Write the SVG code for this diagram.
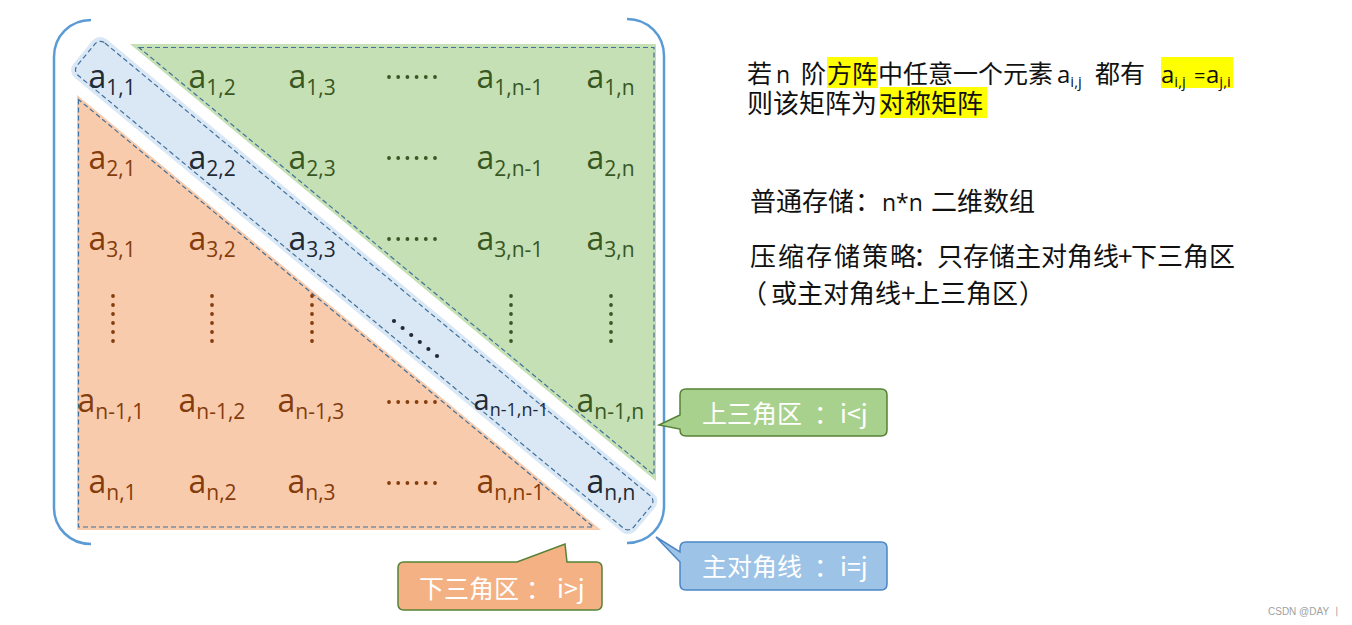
<svg xmlns="http://www.w3.org/2000/svg" width="1352" height="625" viewBox="0 0 1352 625">
<style>
.m{font-family:"Open Sans","Liberation Sans",sans-serif;font-size:32px}
.sm{font-size:29px}
.g{fill:#385723}.o{fill:#843c0c}.b{fill:#222a35}
.dash{fill:none;stroke:#41719c;stroke-width:1.2;stroke-dasharray:5 3}
.cjk{font-family:"Noto Sans CJK SC","Noto Sans",sans-serif;fill:#111}
.lat{font-family:"Open Sans","Liberation Sans",sans-serif;fill:#111}
.hl{fill:#ffff00}
.ct{font-family:"Noto Sans CJK SC","Noto Sans",sans-serif;font-size:25px;fill:#fff}
.br{fill:none;stroke:#5b9bd5;stroke-width:2.5}
</style>
<defs>
<g id="hdots"><circle cx="0" cy="0" r="1.9"/><circle cx="9.2" cy="0" r="1.9"/><circle cx="18.4" cy="0" r="1.9"/><circle cx="27.6" cy="0" r="1.9"/><circle cx="36.8" cy="0" r="1.9"/><circle cx="46" cy="0" r="1.9"/></g>
<g id="vdots"><circle cx="0" cy="0" r="1.9"/><circle cx="0" cy="9" r="1.9"/><circle cx="0" cy="18" r="1.9"/><circle cx="0" cy="27" r="1.9"/><circle cx="0" cy="36" r="1.9"/><circle cx="0" cy="45" r="1.9"/></g>
</defs>
<rect width="1352" height="625" fill="#fff"/>

<g id="region-upper">
<polygon points="130,44 656,44 656,481" fill="#c5e0b4"/>
<polygon class="dash" points="139,47.5 654,47.5 654,475"/>
</g>
<g id="region-lower">
<polygon points="77,95 77,530 601,530" fill="#f8cbad"/>
<polygon class="dash" points="78.5,99.5 78.5,527 593.5,527"/>
</g>
<g id="band" transform="translate(364.2,285.6) rotate(39.7)">
<rect x="-365.5" y="-25" width="731" height="50" rx="10" fill="#dae8f6"/>
<rect class="dash" x="-361.5" y="-21" width="723" height="42" rx="7"/>
</g>

<g id="bracket">
<path class="br" d="M91,20 C70,20 54,36 54,57 L54,508 C54,528 70,544 91,544"/>
<path class="br" d="M627,19 C648,19 664,35 664,56 L664,506 C664,527 648,543 627,543"/>
</g>

<g id="cells" class="m">
<text class="b" x="88.5" y="88">a<tspan font-size="21" dy="7">1,1</tspan></text>
<text class="g" x="188.5" y="88">a<tspan font-size="21" dy="7">1,2</tspan></text>
<text class="g" x="288.5" y="88">a<tspan font-size="21" dy="7">1,3</tspan></text>
<text class="g" x="476.5" y="88">a<tspan font-size="21" dy="7">1,n-1</tspan></text>
<text class="g" x="586.5" y="88">a<tspan font-size="21" dy="7">1,n</tspan></text>

<text class="o" x="88.5" y="169">a<tspan font-size="21" dy="7">2,1</tspan></text>
<text class="b" x="188.5" y="169">a<tspan font-size="21" dy="7">2,2</tspan></text>
<text class="g" x="288.5" y="169">a<tspan font-size="21" dy="7">2,3</tspan></text>
<text class="g" x="476.5" y="169">a<tspan font-size="21" dy="7">2,n-1</tspan></text>
<text class="g" x="586.5" y="169">a<tspan font-size="21" dy="7">2,n</tspan></text>

<text class="o" x="88.5" y="250">a<tspan font-size="21" dy="7">3,1</tspan></text>
<text class="o" x="188.5" y="250">a<tspan font-size="21" dy="7">3,2</tspan></text>
<text class="b" x="288.5" y="250">a<tspan font-size="21" dy="7">3,3</tspan></text>
<text class="g" x="476.5" y="250">a<tspan font-size="21" dy="7">3,n-1</tspan></text>
<text class="g" x="586.5" y="250">a<tspan font-size="21" dy="7">3,n</tspan></text>

<text class="o" x="77.5" y="412">a<tspan font-size="21" dy="7">n-1,1</tspan></text>
<text class="o" x="178.5" y="412">a<tspan font-size="21" dy="7">n-1,2</tspan></text>
<text class="o" x="277.5" y="412">a<tspan font-size="21" dy="7">n-1,3</tspan></text>
<text class="b sm" x="473.5" y="410">a<tspan font-size="18" dy="6">n-1,n-1</tspan></text>
<text class="g" x="576.5" y="412">a<tspan font-size="21" dy="7">n-1,n</tspan></text>

<text class="o" x="88.5" y="493">a<tspan font-size="21" dy="7">n,1</tspan></text>
<text class="o" x="188.5" y="493">a<tspan font-size="21" dy="7">n,2</tspan></text>
<text class="o" x="287.5" y="493">a<tspan font-size="21" dy="7">n,3</tspan></text>
<text class="o" x="476.5" y="493">a<tspan font-size="21" dy="7">n,n-1</tspan></text>
<text class="b" x="586.5" y="493">a<tspan font-size="21" dy="7">n,n</tspan></text>
</g>

<g id="ellipses">
<use href="#hdots" x="389" y="77" class="g"/>
<use href="#hdots" x="389" y="158" class="g"/>
<use href="#hdots" x="389" y="239" class="g"/>
<use href="#hdots" x="389" y="402" class="o"/>
<use href="#hdots" x="389" y="483" class="o"/>
<use href="#vdots" x="113" y="296" class="o"/>
<use href="#vdots" x="212" y="296" class="o"/>
<use href="#vdots" x="312" y="296" class="o"/>
<use href="#vdots" x="511" y="296" class="g"/>
<use href="#vdots" x="611" y="296" class="g"/>
<g class="b"><circle cx="394" cy="321" r="2.1"/><circle cx="402.6" cy="328" r="2.1"/><circle cx="411.2" cy="335" r="2.1"/><circle cx="419.8" cy="342" r="2.1"/><circle cx="428.4" cy="349" r="2.1"/><circle cx="437" cy="356" r="2.1"/></g>
</g>

<g id="callout-upper">
<path d="M686,389 H881 Q887,389 887,395 V430 Q887,436 881,436 H686 Q680,436 680,430 V429 L659,425 L680,415 V395 Q680,389 686,389 Z" fill="#a9d18e" stroke="#548235" stroke-width="1.5"/>
<text class="ct" x="702" y="423">上三角区</text>
<text class="ct" x="814" y="423">：</text>
<text class="ct" x="840" y="423">i&lt;j</text>
</g>
<g id="callout-diagonal">
<path d="M686,542 H881 Q887,542 887,548 V584 Q887,590 881,590 H686 Q680,590 680,584 V562 L656,537 L680,552 V548 Q680,542 686,542 Z" fill="#9dc3e6" stroke="#4a86c5" stroke-width="1.5"/>
<text class="ct" x="702" y="576">主对角线</text>
<text class="ct" x="814" y="576">：</text>
<text class="ct" x="840" y="576">i=j</text>
</g>
<g id="callout-lower">
<path d="M404,562 H517 L565,544 L567,562 H596 Q602,562 602,568 V604 Q602,610 596,610 H404 Q398,610 398,604 V568 Q398,562 404,562 Z" fill="#f4b183" stroke="#548235" stroke-width="1.5"/>
<text class="ct" x="419" y="598">下三角区</text>
<text class="ct" x="526" y="598">：</text>
<text class="ct" x="557" y="598">i&gt;j</text>
</g>

<g id="description">
<rect class="hl" x="827" y="57" width="51" height="31"/>
<rect class="hl" x="1161" y="57" width="72" height="31"/>
<rect class="hl" x="880" y="87" width="107" height="31"/>
<text class="cjk" font-size="25" x="747" y="83">若</text>
<text class="lat" font-size="23" x="776" y="83">n</text>
<text class="cjk" font-size="25" x="801" y="83">阶</text>
<text class="cjk" font-size="25" x="827" y="83">方阵</text>
<text class="cjk" font-size="25" x="878" y="83">中任意一个元素</text>
<text class="lat" font-size="24" x="1057" y="83">a<tspan font-size="15" dy="4">i,j</tspan></text>
<text class="cjk" font-size="25" x="1095" y="83">都有</text>
<text class="lat" font-size="24" x="1161" y="83">a<tspan font-size="15" dy="4">i,j</tspan></text>
<text class="lat" font-size="20" x="1194" y="83">=</text>
<text class="lat" font-size="24" x="1206" y="83">a<tspan font-size="15" dy="4">j,i</tspan></text>
<text class="cjk" font-size="26" x="747" y="113">则该矩阵为</text>
<text class="cjk" font-size="26" x="879" y="113">对称矩阵</text>
<text class="cjk" font-size="26" x="750" y="211">普通存储</text>
<text class="cjk" font-size="26" x="855" y="211">：</text>
<text class="lat" font-size="23" x="882" y="211">n*n</text>
<text class="cjk" font-size="26" x="931" y="211">二维数组</text>
<text class="cjk" font-size="26" x="750" y="266" letter-spacing="2">压缩存储策略</text>
<text class="cjk" font-size="26" x="913" y="266">：</text>
<text class="cjk" font-size="26" x="937" y="266">只存储主对角线</text>
<text class="cjk" font-size="26" x="1118" y="266">+</text>
<text class="cjk" font-size="26" x="1131" y="266">下三角区</text>
<text class="cjk" font-size="26" x="741" y="303">（</text>
<text class="cjk" font-size="26" x="771" y="303">或主对角线</text>
<text class="cjk" font-size="26" x="901" y="303">+</text>
<text class="cjk" font-size="26" x="914" y="303">上三角区</text>
<text class="cjk" font-size="26" x="1019" y="303">）</text>
</g>

<g id="connectors"/>
<text x="1268" y="615" font-family="Liberation Sans,sans-serif" font-size="10" fill="#a0a0a0">CSDN @DAY  丨</text>
</svg>
